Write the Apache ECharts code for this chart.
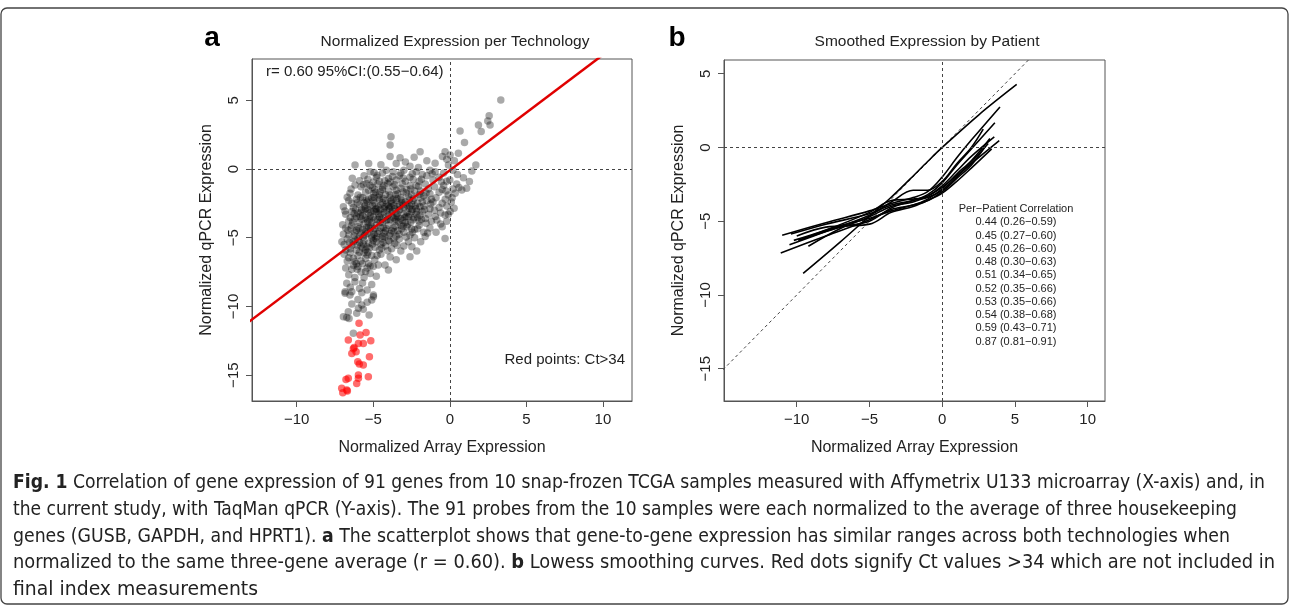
<!DOCTYPE html>
<html>
<head>
<meta charset="utf-8">
<script src="https://cdn.jsdelivr.net/npm/echarts@6/dist/echarts.min.js"></script>
<style>
html,body{margin:0;padding:0;background:#fff;}
#chart{width:1290px;height:606px;}
</style>
</head>
<body>
<div id="chart"></div>
<script>
// ---------------- DATA ----------------
const xTicks = [-10, -5, 0, 5, 10];
const yTicks = [-15, -10, -5, 0, 5];

// Panel a: gray points (qPCR Ct <= 34)
const grayPoints = [
[3.33,5.02],[2.57,3.88],[2.48,3.49],[2.63,3.2],[1.87,3.2],[2.05,2.72],[0.67,2.77],[0.96,1.92],[-3.84,2.35],[-3.9,1.75],[-1.94,1.26],[-2.33,0.85],[-3.25,0.82],[-3.9,0.9],[-6.19,0.29],[-0.31,1.26],[0.02,1.02],[0.56,1.14],[-0.48,0.9],[1.7,0.29],[-0.96,0.41],[-0.09,0.29],[0.3,0.6],[-0.2,0.7],[-2.9,0.5],[-4.5,0.3],[-1.5,0.6],[-5.3,0.4],[-2.6,0.2],[-3.5,0.4],
[1.44,-0.15],[0.89,-0.63],[1.28,-0.92],[-0.96,-0.2],[0,-0.8],[-0.4,-0.3],[0.2,-0.1],[-0.7,-0.6],[-1.3,-0.1],[-1.8,-0.4],[-2.2,-0.2],[-2.6,-0.6],[-3.0,-0.1],[-3.3,-0.5],[-3.7,-0.2],[-4.0,-0.7],[-4.4,-0.3],[-4.8,-0.6],[-5.2,-0.2],[-5.6,-0.5],[-6.37,-0.68],[-1.1,-0.8],[-2.0,-0.9],[-2.9,-0.9],[-3.9,-0.95],[-4.6,-0.9],[-5.0,-0.95],[-1.5,-0.5],[-3.5,-0.8],[-2.4,-0.75],[0.5,-0.4],[-0.2,-0.9],
[0.78,-1.53],[0.35,-1.77],[1.1,-1.4],[0.6,-1.35],[0.2,-1.45],[-6.19,-1.16],[-6.52,-1.77],[-5.8,-1.3],[-5.5,-1.7],[-5.2,-1.2],[-4.9,-1.5],[-4.6,-1.9],[-4.3,-1.2],[-4.0,-1.6],[-3.7,-1.3],[-3.4,-1.8],[-3.1,-1.1],[-2.8,-1.5],[-2.5,-1.9],[-2.2,-1.2],[-1.9,-1.6],[-1.6,-1.1],[-1.3,-1.8],[-1.0,-1.3],[-0.7,-1.7],[-0.4,-1.2],[-0.1,-1.9],[-5.0,-1.8],[-4.4,-1.5],[-3.9,-1.9],[-3.2,-1.4],[-2.6,-1.2],[-2.0,-1.85],[-1.4,-1.45],[-4.7,-1.1],[-3.5,-1.55],[-5.3,-1.55],[-6.0,-1.9],[-2.3,-1.6],[-4.2,-1.85],[-1.7,-1.95],[-0.5,-1.5],
[-6.95,-2.74],[-6.6,-2.3],[-6.3,-2.8],[-6.1,-2.2],[-5.9,-2.6],[-5.7,-2.1],[-5.5,-2.9],[-5.4,-2.4],[-5.2,-2.7],[-5.1,-2.1],[-4.9,-2.5],[-4.8,-2.9],[-4.6,-2.2],[-4.5,-2.6],[-4.3,-2.9],[-4.2,-2.3],[-4.0,-2.7],[-3.9,-2.1],[-3.8,-2.5],[-3.6,-2.9],[-3.5,-2.3],[-3.3,-2.6],[-3.2,-2.1],[-3.0,-2.8],[-2.9,-2.4],[-2.7,-2.0],[-2.6,-2.7],[-2.4,-2.3],[-2.2,-2.9],[-2.1,-2.5],[-1.9,-2.1],[-1.7,-2.7],[-1.5,-2.3],[-1.3,-2.9],[-1.1,-2.4],[-0.9,-2.1],[-0.7,-2.8],[-0.3,-2.2],[0.28,-2.86],[0.1,-2.4],[-0.2,-2.7],[-5.6,-2.45],[-5.0,-2.3],[-4.4,-2.45],[-3.7,-2.2],[-3.1,-2.45],[-2.5,-2.55],[-1.8,-2.4],[-4.7,-2.75],[-4.1,-2.55],[-3.4,-2.75],[-2.8,-2.65],[-5.3,-2.2],[-6.4,-2.5],[-1.2,-2.2],[-0.5,-2.5],
[-6.8,-3.3],[-6.6,-3.8],[-6.4,-3.1],[-6.2,-3.6],[-6.0,-3.2],[-5.9,-3.9],[-5.7,-3.4],[-5.6,-3.0],[-5.4,-3.7],[-5.3,-3.2],[-5.1,-3.9],[-5.0,-3.5],[-4.8,-3.1],[-4.7,-3.7],[-4.5,-3.3],[-4.4,-3.9],[-4.2,-3.5],[-4.1,-3.0],[-3.9,-3.7],[-3.8,-3.2],[-3.6,-3.8],[-3.5,-3.4],[-3.3,-3.0],[-3.2,-3.6],[-3.0,-3.3],[-2.9,-3.9],[-2.7,-3.5],[-2.5,-3.1],[-2.4,-3.7],[-2.2,-3.3],[-2.0,-3.8],[-1.8,-3.1],[-1.6,-3.6],[-1.4,-3.3],[-1.2,-3.8],[-0.85,-3.71],[-0.31,-3.35],[0.02,-3.1],[-0.6,-3.2],[-1.0,-3.0],[-6.1,-3.45],[-5.5,-3.55],[-4.9,-3.65],[-4.3,-3.15],[-3.7,-3.55],[-3.1,-3.75],[-2.6,-3.3],[-5.8,-3.15],[-5.2,-3.4],[-4.6,-3.5],[-4.0,-3.35],[-3.4,-3.5],[-2.8,-3.15],[-2.1,-3.55],[-6.5,-3.55],[-0.2,-3.8],
[-6.8,-4.3],[-6.6,-4.8],[-6.4,-4.1],[-6.2,-4.6],[-6.0,-4.2],[-5.9,-4.9],[-5.7,-4.4],[-5.6,-4.0],[-5.4,-4.7],[-5.3,-4.2],[-5.1,-4.9],[-5.0,-4.5],[-4.8,-4.1],[-4.7,-4.7],[-4.5,-4.3],[-4.4,-4.9],[-4.2,-4.5],[-4.0,-4.1],[-3.9,-4.7],[-3.7,-4.3],[-3.5,-4.9],[-3.4,-4.5],[-3.2,-4.1],[-3.0,-4.6],[-2.8,-4.2],[-2.6,-4.8],[-2.3,-4.4],[-2.0,-4.1],[-1.7,-4.6],[-1.61,-4.92],[-1.3,-4.3],[-0.9,-4.6],[-0.5,-4.2],[-6.1,-4.45],[-5.5,-4.55],[-4.9,-4.35],[-4.3,-4.65],[-3.8,-4.5],[-3.3,-4.75],[-5.8,-4.65],[-5.2,-4.35],[-4.6,-4.55],[-2.5,-4.35],
[-6.9,-5.5],[-6.7,-5.1],[-6.5,-5.8],[-6.3,-5.3],[-6.1,-5.9],[-6.0,-5.1],[-5.8,-5.6],[-5.6,-5.2],[-5.5,-5.9],[-5.3,-5.4],[-5.1,-5.0],[-4.9,-5.7],[-4.8,-5.3],[-4.6,-5.9],[-4.4,-5.1],[-4.2,-5.6],[-4.0,-5.2],[-3.8,-5.8],[-3.6,-5.4],[-3.3,-5.1],[-3.0,-5.6],[-2.7,-5.3],[-2.48,-5.65],[-2.16,-5.97],[-0.31,-5.05],[-1.9,-5.3],[-6.4,-5.55],[-5.9,-5.35],[-5.4,-5.65],[-4.5,-5.45],[-3.9,-5.3],[-6.8,-5.9],
[-2.6,-6.38],[-3.2,-5.97],[-4.01,-7.35],[-4.23,-6.99],[-4.67,-6.99],[-6.9,-6.2],[-6.7,-6.7],[-6.5,-6.1],[-6.3,-6.5],[-6.1,-6.9],[-6.0,-6.3],[-5.8,-6.7],[-5.6,-6.1],[-5.5,-6.5],[-5.3,-6.9],[-5.1,-6.3],[-4.9,-6.6],[-4.5,-6.2],[-3.9,-6.4],[-3.5,-6.6],[-5.9,-6.05],[-6.2,-6.75],[-5.4,-6.25],
[-6.8,-7.2],[-6.6,-7.7],[-6.4,-7.3],[-6.2,-7.9],[-6.0,-7.1],[-5.8,-7.5],[-5.6,-7.9],[-5.4,-7.2],[-5.2,-7.6],[-5.0,-7.1],[-4.8,-7.8],[-6.3,-7.0],[-5.5,-7.45],
[-6.73,-8.32],[-6.84,-8.93],[-6.5,-8.6],[-6.2,-8.2],[-5.9,-8.7],[-5.7,-8.3],[-5.4,-8.8],[-5.1,-8.4],[-4.99,-9.17],[-6.4,-8.93],[-5.75,-9.0],
[-6.52,-9.17],[-6.84,-9.05],[-4.99,-9.29],[-5.1,-9.53],[-6.4,-9.83],[-5.75,-9.9],[-5.97,-10.14],[-5.65,-10.21],[-6.63,-10.38],[-6.95,-10.75],[-6.73,-10.8],[-6.08,-10.5],[-5.27,-10.63],[-6.3,-11.96],[-6.0,-9.5],[-5.4,-9.7],[-6.58,-10.87],
[-5.85,-2.05],[-5.45,-2.25],[-5.05,-2.65],[-4.65,-2.05],[-4.25,-2.75],[-3.85,-2.35],[-3.45,-2.15],[-3.05,-2.6],[-2.65,-2.25],[-2.25,-2.7],[-5.75,-3.65],[-5.35,-3.85],[-4.95,-3.05],[-4.55,-3.85],[-4.15,-3.75],[-3.75,-3.05],[-3.35,-3.85],[-2.95,-3.55],[-2.55,-3.85],[-2.15,-3.05],[-5.95,-4.35],[-5.55,-4.8],[-5.15,-4.15],[-4.75,-4.95],[-4.35,-4.25],[-3.95,-4.85],[-3.55,-4.15],[-3.15,-4.35],[-6.25,-4.85],[-6.55,-5.35],[-5.65,-5.45],[-5.25,-5.75],[-4.85,-5.05],[-4.45,-5.75],[-4.05,-5.95],[-4.4,-1.35],[-3.6,-1.15],[-2.85,-1.75],[-5.45,-1.05],[-4.85,-1.7],[-3.95,-2.85],[-4.85,-2.95],[-5.75,-2.95],[-6.15,-2.95],[-3.25,-2.95],[-2.45,-2.95],[-1.65,-2.95],[-1.95,-3.35],[-1.55,-3.95],[-2.75,-4.05],[-3.55,-3.65],[-4.45,-3.65],[-5.25,-3.65],[-6.35,-3.85],[-6.65,-4.45],[-6.05,-5.55],[-5.05,-5.45],[-3.65,-5.05],[-2.85,-4.95],[-1.25,-2.55],[-0.95,-3.45],[-1.45,-4.65],[-2.3,-5.0],[-0.6,-4.0],[-0.1,-3.3],[0.15,-2.1],[-0.25,-1.6],[0.45,-1.1],[-0.55,-0.95],[-1.15,-0.35],[-2.05,0.1],[-3.2,-0.3],[-4.15,-0.1],[-4.95,-0.25],[-5.9,-0.85],[-6.45,-1.45],[-6.7,-2.05],[-6.85,-3.05],[-7.0,-4.05],[-6.95,-4.75],[-7.05,-5.3],
[-5.35,-0.75],[-4.75,-0.45],[-4.25,-0.85],[-3.75,-0.55],[-3.05,-0.65],[-2.45,-0.35],[-1.85,-0.75],[-5.65,-1.15],[-5.05,-1.35],[-4.55,-1.65],[-4.05,-1.05],[-3.55,-1.85],[-3.05,-1.65],[-2.55,-1.45],[-2.05,-1.25],[-1.55,-1.75],[-5.55,-2.7],[-4.95,-2.05],[-4.35,-2.15],[-3.65,-2.65],[-3.15,-2.25],[-2.35,-2.15],[-1.95,-2.75],[-5.85,-3.45],[-5.15,-3.15],[-4.65,-3.25],[-4.05,-3.65],[-3.45,-3.25],[-2.85,-3.45],[-2.35,-3.55],[-1.85,-3.65],[-5.45,-4.25],[-4.95,-4.75],[-4.15,-4.35],[-3.65,-4.55],[-3.05,-4.15],[-2.45,-4.6],[-2.1,-4.35],[-5.65,-4.95],[-5.0,-5.2],[-4.35,-5.35],[-3.45,-5.55],[-6.45,-4.35],[-6.25,-3.25],[-6.05,-2.45],[-5.35,-2.95],[-4.55,-2.95],[-3.85,-2.75],[-2.65,-2.85],[-4.25,-4.95],[-5.7,-5.75],[-6.2,-5.15],[-5.35,-6.05],[-4.75,-6.3],[-6.6,-6.45],[-6.05,-7.3],[-5.7,-6.9],[-5.2,-7.05]
];

// Panel a: red points (Ct > 34)
const redPoints = [
[-5.93,-11.23],[-5.86,-12.08],[-5.47,-11.89],[-6.63,-12.45],[-5.97,-12.69],[-5.16,-12.49],[-5.65,-12.69],[-6.25,-12.98],[-6.3,-13.08],[-6.4,-13.42],[-6.12,-13.3],[-5.25,-13.66],[-6.01,-14.02],[-5.91,-14.19],[-5.65,-14.26],[-5.97,-14.99],[-5.32,-15.11],[-5.97,-15.23],[-6.63,-15.23],[-6.78,-15.31],[-6.08,-15.6],[-7.06,-15.96],[-6.73,-16.08],[-6.99,-16.28],[-6.69,-16.16]
];

// Panel a: regression line
const regSlope = 0.84;
const regIntercept = -0.1;
const regXRange = [-14, 11];

// Panel b: lowess curves per patient
const patientCurves = [
[[-11.0,-5.95],[-8,-5.1],[-5,-4.3],[-3.5,-3.8],[-2,-3.4],[-1,-3.0],[0,-2.0],[1,-0.7],[2,0.5],[3.97,2.75]],
[[-10.4,-5.87],[-8,-5.2],[-5,-4.5],[-3.5,-3.9],[-2,-3.6],[-1,-3.2],[0,-2.4],[1,-1.2],[2,-0.1],[3.62,1.67]],
[[-10.5,-6.6],[-8,-5.7],[-5,-4.6],[-3.5,-3.7],[-2,-2.9],[-1,-2.9],[0,-2.3],[1,-1.1],[2,0.0],[2.82,1.24]],
[[-9.2,-6.7],[-7,-5.5],[-5,-4.7],[-3.5,-4.0],[-2,-3.7],[-1,-3.3],[0,-2.6],[1,-1.6],[2,-0.6],[3.58,0.72]],
[[-11.1,-7.15],[-8,-6.0],[-5,-4.9],[-3.5,-4.2],[-2,-3.9],[-1,-3.5],[0,-2.8],[1,-1.8],[2,-0.9],[3.28,0.61]],
[[-9.9,-6.3],[-7,-5.4],[-5,-5.0],[-3.5,-4.1],[-2,-3.6],[-1,-3.4],[0,-2.9],[1,-2.0],[2,-1.1],[3.92,0.47]],
[[-10.2,-6.3],[-8,-5.6],[-5,-4.4],[-3.5,-3.6],[-2,-3.5],[-1,-3.3],[0,-2.7],[1,-1.9],[2,-1.0],[3.16,0.27]],
[[-9.6,-6.2],[-7,-5.3],[-5,-4.8],[-3.5,-4.3],[-2,-3.9],[-1,-3.6],[0,-3.0],[1,-2.1],[2,-1.2],[2.94,0.04]],
[[-10.0,-6.0],[-8,-5.4],[-5,-5.2],[-3.5,-4.4],[-2,-4.0],[-1,-3.6],[0,-3.1],[1,-2.3],[2,-1.4],[3.4,-0.1]],
[[-9.56,-8.54],[-7,-6.4],[-5,-4.65],[-3.6,-3.46],[-2.2,-2.13],[-1,-0.95],[0,0],[2.5,2.2],[5.12,4.27]]
];
const identityRange = [-20, 10];

const patientCorrTitle = 'Per\u2212Patient Correlation';
const patientCorr = [
'0.44 (0.26\u22120.59)','0.45 (0.27\u22120.60)','0.45 (0.26\u22120.60)','0.48 (0.30\u22120.63)','0.51 (0.34\u22120.65)',
'0.52 (0.35\u22120.66)','0.53 (0.35\u22120.66)','0.54 (0.38\u22120.68)','0.59 (0.43\u22120.71)','0.87 (0.81\u22120.91)'
];

const captionLines = [
  [['b','Fig. 1'],['n',' Correlation of gene expression of 91 genes from 10 snap-frozen TCGA samples measured with Affymetrix U133 microarray (X-axis) and, in']],
  [['n','the current study, with TaqMan qPCR (Y-axis). The 91 probes from the 10 samples were each normalized to the average of three housekeeping']],
  [['n','genes (GUSB, GAPDH, and HPRT1). '],['b','a'],['n',' The scatterplot shows that gene-to-gene expression has similar ranges across both technologies when']],
  [['n','normalized to the same three-gene average (r = 0.60). '],['b','b'],['n',' Lowess smoothing curves. Red dots signify Ct values >34 which are not included in']],
  [['n','final index measurements']]
];

// ---------------- CHART ----------------
const FONT = "'Liberation Sans', Arial, Helvetica, sans-serif";
const CAPFONT = "'Liberation Sans Narrow', 'DejaVu Sans Condensed', 'Roboto Condensed', sans-serif";
const AXC = '#555';
const TXT = '#222';
const minusFmt = v => String(v).replace('-', '\u2212');

const chart = echarts.init(document.getElementById('chart'), null, {renderer: 'canvas'});

function xAxis(gi, min, max) {
  return {
    gridIndex: gi, type: 'value', min: min, max: max,
    name: 'Normalized Array Expression', nameLocation: 'middle', nameGap: 39,
    nameTextStyle: {fontSize: 16, color: TXT, fontFamily: FONT},
    axisLine: {show: true, onZero: false, lineStyle: {color: AXC, width: 1}},
    axisTick: {show: true, length: 6, customValues: xTicks, lineStyle: {color: AXC}},
    axisLabel: {customValues: xTicks, formatter: minusFmt, fontSize: 15, color: TXT, fontFamily: FONT, margin: 11},
    splitLine: {show: false}
  };
}
function yAxis(gi, min, max) {
  return {
    gridIndex: gi, type: 'value', min: min, max: max,
    name: 'Normalized qPCR Expression', nameLocation: 'middle', nameGap: 37,
    nameTextStyle: {fontSize: 16, color: TXT, fontFamily: FONT},
    axisLine: {show: true, onZero: false, lineStyle: {color: AXC, width: 1}},
    axisTick: {show: true, length: 6, customValues: yTicks, lineStyle: {color: AXC}},
    axisLabel: {customValues: yTicks, formatter: minusFmt, fontSize: 15, color: TXT, fontFamily: FONT, rotate: 90, margin: 11},
    splitLine: {show: false}
  };
}
const zeroLines = {
  silent: true, symbol: ['none', 'none'], animation: false,
  label: {show: false},
  lineStyle: {type: [3, 3], color: '#444', width: 1},
  data: [{xAxis: 0}, {yAxis: 0}]
};

const series = [
  {type: 'scatter', xAxisIndex: 0, yAxisIndex: 0, data: grayPoints, symbolSize: 7.5,
   itemStyle: {color: 'rgba(0,0,0,0.42)'}, silent: true, markLine: zeroLines, z: 2},
  {type: 'scatter', xAxisIndex: 0, yAxisIndex: 0, data: redPoints, symbolSize: 7.5,
   itemStyle: {color: 'rgba(255,0,0,0.72)'}, silent: true, z: 2},
  {type: 'line', xAxisIndex: 0, yAxisIndex: 0, clip: true, showSymbol: false, silent: true,
   data: regXRange.map(x => [x, regSlope * x + regIntercept]),
   lineStyle: {color: '#e00000', width: 2.5}, z: 3},
  {type: 'line', xAxisIndex: 1, yAxisIndex: 1, clip: true, showSymbol: false, silent: true,
   data: identityRange.map(x => [x, x]),
   lineStyle: {color: '#444', width: 1, type: [3, 3]}, markLine: zeroLines, z: 2}
];
patientCurves.forEach(c => {
  series.push({type: 'line', xAxisIndex: 1, yAxisIndex: 1, clip: true, showSymbol: false, silent: true,
    data: c, smooth: 0.35, lineStyle: {color: '#000', width: 1.6}, z: 3});
});

// caption (each line stretched to its right edge in the reference)
const mctx = document.createElement('canvas').getContext('2d');
const CAPSIZE = 19;
const capLeft = 13;
const capRights = [1265, 1237, 1230, 1275, 258];
function segW(seg) {
  mctx.font = (seg[0] === 'b' ? 'bold ' : '') + CAPSIZE + 'px ' + CAPFONT;
  return mctx.measureText(seg[1]).width;
}
const graphics = [];
captionLines.forEach((line, i) => {
  const lw = line.reduce((s, g) => s + segW(g), 0);
  const sx = (capRights[i] - capLeft) / lw;
  const txt = line.map(s => '{' + s[0] + '|' + s[1].replace(/[{}]/g, '') + '}').join('');
  graphics.push({
    type: 'text', x: capLeft, y: 483 + i * 26.8, scaleX: sx, silent: true,
    style: {
      text: txt, fill: TXT, verticalAlign: 'middle', align: 'left',
      rich: {
        b: {fontFamily: CAPFONT, fontSize: CAPSIZE, fontWeight: 'bold', fill: TXT},
        n: {fontFamily: CAPFONT, fontSize: CAPSIZE, fill: TXT}
      }
    }
  });
});

// titles & annotations
graphics.push(
  {type: 'rect', shape: {x: 1, y: 8, width: 1287, height: 596, r: 6}, silent: true,
   style: {fill: 'none', stroke: '#444', lineWidth: 1.3}},
  {type: 'text', x: 212, y: 38, silent: true, style: {text: 'a', font: 'bold 28px ' + FONT, fill: '#000', align: 'center', verticalAlign: 'middle'}},
  {type: 'text', x: 677, y: 38, silent: true, style: {text: 'b', font: 'bold 28px ' + FONT, fill: '#000', align: 'center', verticalAlign: 'middle'}},
  {type: 'text', x: 455, y: 42, silent: true, style: {text: 'Normalized Expression per Technology', font: '15.5px ' + FONT, fill: TXT, align: 'center', verticalAlign: 'middle'}},
  {type: 'text', x: 927, y: 42, silent: true, style: {text: 'Smoothed Expression by Patient', font: '15.5px ' + FONT, fill: TXT, align: 'center', verticalAlign: 'middle'}},
  {type: 'text', x: 266, y: 72, silent: true, style: {text: 'r= 0.60 95%CI:(0.55\u22120.64)', font: '15px ' + FONT, fill: TXT, align: 'left', verticalAlign: 'middle'}},
  {type: 'text', x: 625, y: 360, silent: true, style: {text: 'Red points: Ct>34', font: '15px ' + FONT, fill: TXT, align: 'right', verticalAlign: 'middle'}},
  {type: 'text', x: 1016, y: 208.5, silent: true, style: {text: patientCorrTitle, font: '11px ' + FONT, fill: TXT, align: 'center', verticalAlign: 'middle'}}
);
patientCorr.forEach((t, i) => {
  graphics.push({type: 'text', x: 1016, y: 222.3 + i * 13.27, silent: true,
    style: {text: t, font: '11px ' + FONT, fill: TXT, align: 'center', verticalAlign: 'middle'}});
});

chart.setOption({
  animation: false,
  backgroundColor: '#fff',
  grid: [
    {left: 252, top: 59, width: 380, height: 342, show: true, borderColor: AXC, borderWidth: 1, backgroundColor: 'transparent'},
    {left: 724, top: 60, width: 381, height: 341, show: true, borderColor: AXC, borderWidth: 1, backgroundColor: 'transparent'}
  ],
  xAxis: [xAxis(0, -12.92, 11.9), xAxis(1, -15.0, 11.19)],
  yAxis: [yAxis(0, -16.88, 8.0), yAxis(1, -17.19, 5.93)],
  series: series,
  graphic: graphics
});
</script>
</body>
</html>
